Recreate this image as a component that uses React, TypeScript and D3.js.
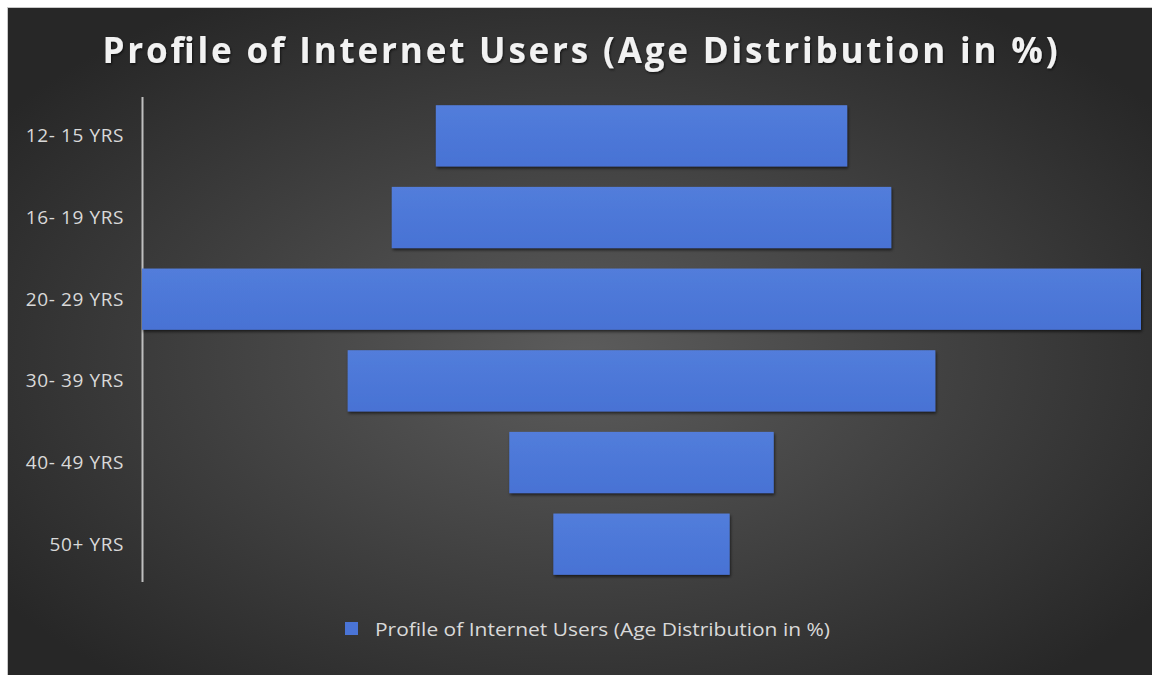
import React from "react";
import * as d3 from "d3";

const categories = ["12- 15 YRS", "16- 19 YRS", "20- 29 YRS", "30- 39 YRS", "40- 49 YRS", "50+ YRS"];
const values = [14, 17, 34, 20, 9, 6];
const title = "Profile of Internet Users (Age Distribution in %)";
const seriesName = "Profile of Internet Users (Age Distribution in %)";

export default function App() {
  const W = 1152, H = 675;
  const center = 641.5;
  const x = d3.scaleLinear().domain([0, d3.max(values) as number]).range([0, 999]);
  const y = d3.scaleBand<string>().domain(categories).range([95, 585]).paddingInner(0.25).paddingOuter(0.125);
  return (
    <svg width={W} height={H} style={{ position: "absolute", left: 0, top: 0, background: "#fff" }}>
      <defs>
        <radialGradient id="bg" cx="0.5" cy="0.52" r="0.62">
          <stop offset="0" stopColor="#5c5c5c" />
          <stop offset="1" stopColor="#272727" />
        </radialGradient>
        <linearGradient id="bar" x1="0" y1="0" x2="0" y2="1">
          <stop offset="0" stopColor="#527ddb" />
          <stop offset="1" stopColor="#4872d4" />
        </linearGradient>
        <filter id="sh" x="-5%" y="-20%" width="110%" height="140%">
          <feDropShadow dx="1" dy="2" stdDeviation="1.5" floodColor="#000" floodOpacity="0.6" />
        </filter>
        <filter id="tsh" x="-5%" y="-20%" width="110%" height="140%">
          <feDropShadow dx="1" dy="1.5" stdDeviation="1" floodColor="#000" floodOpacity="0.6" />
        </filter>
      </defs>
      <rect x={7.5} y={7.5} width={W} height={H} fill="url(#bg)" stroke="#c8c8c8" strokeWidth={1} />
      <text x={580} y={63} textAnchor="middle" fill="#f2f2f2" fontFamily="'Open Sans', sans-serif" fontWeight={700} fontSize={35} textLength={955} lengthAdjust="spacing" filter="url(#tsh)">{title}</text>
      <line x1={142.5} x2={142.5} y1={97} y2={582} stroke="#bfbfbf" strokeWidth={2} />
      {categories.map((c, i) => (
        <g key={c}>
          <text x={124} y={(y(c) as number) + y.bandwidth() / 2} dy="0.35em" textAnchor="end" fill="#d9d9d9" fontFamily="'Open Sans', sans-serif" fontSize={19} letterSpacing={0.6}>{c}</text>
          <rect x={center - x(values[i]) / 2} y={y(c) as number} width={x(values[i])} height={y.bandwidth()} fill="url(#bar)" filter="url(#sh)" />
        </g>
      ))}
      <rect x={345} y={622} width={13} height={13} fill="#4a74d6" />
      <text x={375} y={630} dy="0.35em" fill="#d9d9d9" fontFamily="'Open Sans', sans-serif" fontSize={18} textLength={455} lengthAdjust="spacingAndGlyphs">{seriesName}</text>
    </svg>
  );
}
